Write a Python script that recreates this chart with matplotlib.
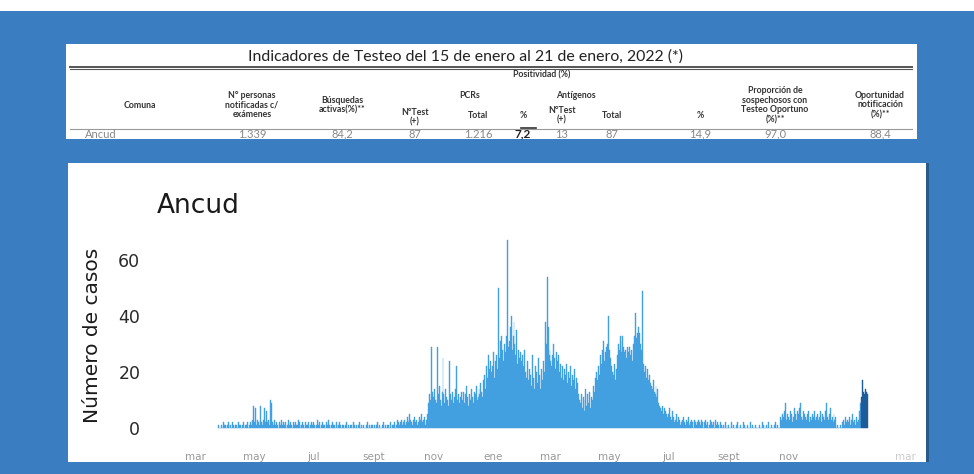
import numpy as np
import pandas as pd
import matplotlib.pyplot as plt
import matplotlib.dates as mdates
from matplotlib.patches import Rectangle
from matplotlib.lines import Line2D

# casos diarios Ancud (desde el 25 de marzo de 2020)
mar20 = [1, 0, 0, 1, 0, 2, 1]
abr20 = [1, 0, 1, 2, 0, 1, 1, 0, 2, 1, 0, 1, 1, 0, 2, 1, 1, 0, 1, 2, 0, 1, 1, 2, 0, 1, 2, 1, 3, 8]
may20 = [2, 7, 1, 3, 2, 1, 8, 2, 1, 3, 7, 2, 1, 6, 2, 3, 1, 10, 9, 2, 1, 3, 1, 2, 1, 0, 2, 1, 3, 1, 2]
jun20 = [1, 2, 0, 1, 3, 1, 2, 1, 0, 2, 1, 2, 1, 1, 3, 2, 0, 1, 1, 2, 1, 0, 2, 1, 1, 2, 0, 1, 2, 1]
jul20 = [2, 1, 0, 1, 3, 1, 2, 0, 1, 2, 1, 1, 0, 2, 1, 3, 1, 0, 1, 2, 1, 1, 0, 2, 1, 0, 1, 2, 1, 0, 1]
ago20 = [1, 0, 1, 2, 0, 1, 0, 1, 1, 0, 2, 1, 0, 1, 0, 1, 2, 0, 1, 0, 1, 0, 0, 1, 2, 0, 1, 0, 1, 0, 1]
sep20 = [0, 1, 0, 1, 2, 0, 1, 0, 0, 1, 2, 0, 1, 0, 1, 1, 0, 2, 0, 1, 1, 2, 0, 1, 3, 2, 1, 2, 3, 1]
oct20 = [2, 3, 1, 2, 4, 3, 2, 5, 3, 2, 1, 3, 4, 2, 3, 1, 2, 4, 3, 5, 2, 3, 4, 1, 3, 5, 9, 12, 10, 29, 13]
nov20 = [11, 14, 10, 9, 29, 12, 15, 10, 8, 13, 25, 12, 9, 14, 11, 10, 8, 24, 12, 10, 13, 9, 11, 14, 22,
         10, 12, 9, 11, 13]
dic20 = [10, 13, 9, 12, 15, 11, 8, 12, 10, 14, 11, 9, 13, 12, 15, 10, 11, 14, 12, 16, 13, 11, 17, 19,
         14, 22, 18, 26, 21, 24, 20]
ene21 = [22, 27, 18, 24, 26, 21, 50, 25, 31, 33, 28, 24, 30, 27, 33, 67, 29, 31, 36, 40, 28, 33, 38,
         30, 26, 35, 23, 28, 25, 27, 24]
feb21 = [26, 22, 28, 20, 18, 24, 17, 21, 19, 15, 26, 18, 14, 22, 20, 16, 25, 19, 14, 21, 17, 24, 20,
         38, 30, 54, 36, 26]
mar21 = [28, 24, 22, 26, 30, 25, 21, 27, 24, 26, 20, 23, 18, 22, 17, 21, 19, 23, 16, 20, 18, 22, 15,
         19, 17, 21, 14, 18, 16, 12, 10]
abr21 = [9, 12, 7, 11, 6, 10, 14, 8, 12, 9, 13, 7, 11, 10, 15, 13, 18, 20, 17, 22, 19, 26, 23, 28, 31,
         24, 27, 29, 30, 40]
may21 = [28, 25, 22, 20, 19, 23, 17, 21, 26, 30, 28, 33, 31, 27, 33, 29, 27, 28, 25, 29, 27, 29, 26,
         28, 24, 30, 33, 41, 32, 34, 36]
jun21 = [34, 30, 28, 49, 23, 20, 22, 18, 21, 17, 19, 16, 15, 14, 17, 13, 12, 15, 11, 14, 9, 8, 7, 6,
         8, 5, 7, 6, 5, 4]
jul21 = [5, 7, 4, 3, 6, 4, 2, 3, 5, 2, 4, 3, 1, 2, 3, 4, 2, 1, 3, 2, 4, 1, 2, 3, 1, 2, 0, 3, 2, 1, 2]
ago21 = [3, 2, 1, 3, 2, 0, 2, 3, 1, 2, 0, 1, 3, 2, 1, 2, 0, 3, 1, 2, 1, 0, 2, 1, 0, 1, 0, 2, 0, 1, 0]
sep21 = [1, 0, 0, 2, 0, 1, 0, 0, 1, 2, 0, 0, 1, 0, 0, 2, 1, 0, 0, 1, 0, 0, 2, 0, 1, 0, 0, 1, 0, 0]
oct21 = [0, 1, 0, 0, 2, 0, 1, 0, 0, 1, 0, 2, 0, 0, 1, 0, 0, 1, 2, 0, 1, 0, 0, 4, 3, 5, 4, 6, 9, 3, 5]
nov21 = [4, 3, 6, 5, 2, 4, 7, 5, 3, 6, 4, 5, 7, 9, 4, 3, 6, 5, 4, 3, 5, 6, 2, 4, 3, 5, 4, 6, 3, 4]
dic21 = [5, 3, 4, 6, 2, 5, 4, 3, 6, 9, 4, 3, 5, 7, 3, 4, 2, 5, 3, 4, 0, 1, 0, 0, 1, 0, 2, 3, 1, 4, 2]
ene22 = [3, 2, 4, 1, 3, 5, 2, 3, 1, 4, 2, 3, 6, 9, 11, 17, 13, 12, 14, 13, 12]

casos = (mar20 + abr20 + may20 + jun20 + jul20 + ago20 + sep20 + oct20 + nov20 + dic20 + ene21
         + feb21 + mar21 + abr21 + may21 + jun21 + jul21 + ago21 + sep21 + oct21 + nov21 + dic21 + ene22)
fechas = pd.date_range("2020-03-25", periods=len(casos), freq="D")
semana_actual = 7  # ultima semana destacada

meses = ["2020-03-01", "2020-05-01", "2020-07-01", "2020-09-01", "2020-11-01", "2021-01-01",
         "2021-03-01", "2021-05-01", "2021-07-01", "2021-09-01", "2021-11-01", "2022-01-01", "2022-03-01"]
meses_lbl = ["mar", "may", "jul", "sept", "nov", "ene", "mar", "may", "jul", "sept", "nov", "", "mar"]

# tabla
titulo_tabla = "Indicadores de Testeo del 15 de enero al 21 de enero, 2022 (*)"
encabezados = ["Comuna", "N° personas\nnotificadas c/\nexámenes", "Búsquedas\nactivas(%)**",
               "N°Test\n(+)", "Total", "%", "N°Test\n(+)", "Total", "%",
               "Proporción de\nsospechosos con\nTesteo Oportuno\n(%)**",
               "Oportunidad\nnotificación\n(%)**"]
fila = ["Ancud", "1.339", "84,2", "87", "1.216", "7,2", "13", "87", "14,9", "97,0", "88,4"]

W, H = 974, 474
azul = "#3a7dc0"
fig = plt.figure(figsize=(W / 100, H / 100), dpi=100, facecolor=azul)


def fx(x):
    return x / W


def fy(y):
    return 1 - y / H


def caja(x0, y0, x1, y1, color):
    fig.patches.append(Rectangle((fx(x0), fy(y1)), fx(x1) - fx(x0), fy(y0) - fy(y1),
                                 transform=fig.transFigure, facecolor=color, edgecolor="none",
                                 zorder=-5))


def texto(x, y, s, **kw):
    fig.text(fx(x), fy(y), s, **kw)


# fondo
caja(0, 0, W, 11, "white")
caja(66, 44, 917, 139, "white")
caja(68, 163, 928, 462, "white")
caja(926, 163, 929, 462, "#2c5a88")

# tabla
ft = "Lato"
gris = "#333333"
texto(465, 57, titulo_tabla, fontsize=11.4, family=ft, ha="center", va="center", color="#222222")
for yy, lw in [(66.5, 1.4), (68.5, 0.8)]:
    fig.add_artist(Line2D([fx(70), fx(912)], [fy(yy), fy(yy)], color="#555555", lw=lw))
fig.add_artist(Line2D([fx(70), fx(912)], [fy(129), fy(129)], color="#999999", lw=0.8))
fig.add_artist(Line2D([fx(521), fx(536)], [fy(127.5), fy(127.5)], color=gris, lw=1.2))

cols_x = [140, 252, 342, 415, 478, 523, 562, 612, 700, 775, 880]
cols_y = [105, 105, 105, 117, 115, 115, 115, 115, 115, 105, 105]
for x, y, s in zip(cols_x, cols_y, encabezados):
    texto(x, y, s, fontsize=6.3, family=ft, weight="bold", ha="center", va="center",
          color=gris, linespacing=1.1)
texto(542, 75, "Positividad (%)", fontsize=6.3, family=ft, weight="bold", ha="center", va="center",
      color=gris)
texto(470, 96, "PCRs", fontsize=6.3, family=ft, weight="bold", ha="center", va="center", color=gris)
texto(576, 96, "Antígenos", fontsize=6.3, family=ft, weight="bold", ha="center", va="center", color=gris)

for i, (x, s) in enumerate(zip(cols_x, fila)):
    if i == 0:
        texto(85, 134, s, fontsize=8, family=ft, ha="left", va="center", color="#888888")
    elif i == 5:
        texto(x, 134, s, fontsize=8.5, family=ft, weight="bold", ha="center", va="center", color="#222222")
    else:
        texto(x, 134, s, fontsize=8, family=ft, ha="center", va="center", color="#888888")

# grafico
px_dia = 0.9726
x_ref = mdates.date2num(pd.Timestamp("2020-03-01"))
ax_l, ax_r, ax_t, ax_b = 150, 915, 230, 440
ax = fig.add_axes([fx(ax_l), fy(ax_b), fx(ax_r) - fx(ax_l), fy(ax_t) - fy(ax_b)])
ax.set_facecolor("white")
ax.set_xlim(x_ref + (ax_l - 195) / px_dia, x_ref + (ax_r - 195) / px_dia)
ax.set_ylim((428 - ax_b) / 2.8, (428 - ax_t) / 2.8)

colores = ["#42a0e0"] * (len(casos) - semana_actual) + ["#1d5c99"] * semana_actual
ax.bar(fechas, casos, width=1.0, color=colores, edgecolor=colores, linewidth=0.3)

ax.set_yticks([0, 20, 40, 60])
ax.set_xticks([pd.Timestamp(m) for m in meses])
ax.set_xticklabels(meses_lbl)
ax.tick_params(axis="y", length=0, pad=7, labelsize=12.5, labelcolor="#2a2a2a")
ax.tick_params(axis="x", length=0, pad=9, labelsize=7.5, labelcolor="#999999")
ax.get_xticklabels()[-1].set_color("#cccccc")
for s in ax.spines.values():
    s.set_visible(False)

texto(157, 206, "Ancud", fontsize=19, ha="left", va="center", color="#1a1a1a")
texto(93, 335, "Número de casos", fontsize=14.5, rotation=90, ha="center", va="center", color="#1a1a1a")

fig.savefig("out.png", dpi=100, facecolor=azul)
